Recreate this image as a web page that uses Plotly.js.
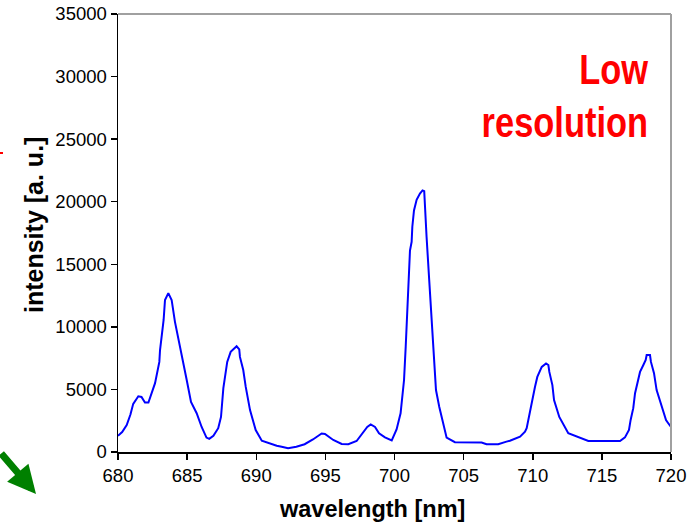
<!DOCTYPE html>
<html>
<head>
<meta charset="utf-8">
<script src="https://cdn.plot.ly/plotly-3.0.1.min.js"></script>
<style>
html,body{margin:0;padding:0;background:#fff;}
#chart{width:698px;height:524px;}
</style>
</head>
<body>
<div id="chart"></div>
<script>
var wavelength = [680.0,680.3,680.63,680.9,681.1,681.47,681.7,681.95,682.2,682.45,682.68,682.99,683.04,683.3,683.4,683.64,683.88,684.12,684.48,684.72,684.97,685.28,685.69,686.05,686.4,686.6,686.9,687.25,687.45,687.62,687.9,688.15,688.58,688.77,688.82,689.06,689.24,689.55,689.96,690.4,691.0,691.48,691.84,692.3,692.9,693.5,694.1,694.73,694.97,695.57,696.18,696.66,697.26,697.63,698.03,698.28,698.59,698.88,699.31,699.8,700.15,700.44,700.59,700.69,700.81,700.93,701.05,701.12,701.24,701.29,701.41,701.6,701.84,702.03,702.15,702.2,702.32,702.51,702.69,702.8,703.0,703.24,703.48,703.77,704.37,705.5,706.3,706.66,707.5,708.1,708.35,709.08,709.44,709.56,709.75,709.97,710.16,710.33,710.65,710.96,711.13,711.2,711.42,711.54,711.92,712.57,713.18,714.02,714.86,716.31,716.67,716.96,717.08,717.27,717.4,717.59,717.76,718.0,718.17,718.24,718.48,718.55,718.77,718.96,719.32,719.64,719.8,720.0];
var intensity = [1300,1600,2150,3000,3850,4450,4400,3950,3950,4700,5500,7200,8150,10550,12150,12700,12150,10400,8300,7100,5750,4000,3100,2000,1150,1050,1300,1900,2800,5100,7200,8000,8450,8200,7600,6550,5200,3350,1750,900,650,500,420,300,420,620,1000,1480,1440,960,640,620,880,1420,2000,2200,2000,1500,1170,920,1800,3090,4420,5750,8400,11900,14300,16100,16800,18000,19300,20150,20650,20900,20850,20000,17200,13750,10300,7900,4950,3600,2550,1150,780,780,760,620,620,830,900,1230,1620,1900,2950,4400,5200,6000,6800,7080,6950,6400,5350,4150,2800,1500,1230,880,880,880,1170,1760,2560,3500,4700,5500,6400,6950,7350,7750,7750,7200,6300,4950,3750,2550,2300,2000];
var xTicks = [680,685,690,695,700,705,710,715,720];
var yTicks = [0,5000,10000,15000,20000,25000,30000,35000];
var xTitle = "wavelength [nm]";
var yTitle = "intensity [a. u.]";
var noteLines = ["Low", "resolution"];

var FONT = "Liberation Sans, Arial, sans-serif";
// pixel -> paper helpers (plot area: x 118..671, y 14..452)
function px(x){ return (x - 118) / 553; }
function py(y){ return (452 - y) / 438; }

var trace = {
  x: wavelength, y: intensity, type: "scatter", mode: "lines",
  line: {color: "#0000ff", width: 2}, hoverinfo: "skip", showlegend: false
};

var layout = {
  width: 698, height: 524,
  margin: {l: 118, r: 27, t: 14, b: 72, pad: 0},
  paper_bgcolor: "#ffffff", plot_bgcolor: "#ffffff",
  font: {family: FONT, color: "#000000", size: 18},
  xaxis: {
    range: [680, 720], tickvals: xTicks, ticktext: xTicks.map(String),
    showgrid: false, zeroline: false, showline: true, linecolor: "#000000", linewidth: 1.5,
    ticks: "outside", ticklen: 6, tickcolor: "#000000", tickwidth: 1.5,
    tickfont: {size: 18.5}
  },
  yaxis: {
    range: [0, 35000], tickvals: yTicks, ticktext: yTicks.map(String),
    showgrid: false, zeroline: false, showline: true, linecolor: "#000000", linewidth: 1.5,
    ticks: "outside", ticklen: 6, tickcolor: "#000000", tickwidth: 1.5,
    tickfont: {size: 18.5}
  },
  shapes: [
    {type: "line", xref: "paper", yref: "paper", x0: 0, x1: 1, y0: 1, y1: 1, line: {color: "#a0a0a0", width: 2}},
    {type: "line", xref: "paper", yref: "paper", x0: 1, x1: 1, y0: 0, y1: 1, line: {color: "#a0a0a0", width: 2}},
    {type: "line", xref: "paper", yref: "paper", x0: px(0), x1: px(3), y0: py(153), y1: py(153), line: {color: "#ff0000", width: 2}}
  ],
  annotations: [
    {xref: "paper", yref: "paper", x: px(372), y: py(509), xanchor: "center", yanchor: "middle",
     text: xTitle, showarrow: false, font: {family: FONT, size: 23.5, weight: "bold", color: "#000000"}},
    {xref: "paper", yref: "paper", x: px(34), y: py(225), xanchor: "center", yanchor: "middle", textangle: -90,
     text: yTitle, showarrow: false, font: {family: FONT, size: 25, weight: "bold", color: "#000000"}},
    {xref: "paper", yref: "paper", x: px(650), y: py(44), xanchor: "right", yanchor: "top",
     text: noteLines[0], showarrow: false, align: "right",
     font: {family: FONT, size: 42, color: "#ff0000", weight: "bold"}},
    {xref: "paper", yref: "paper", x: px(650), y: py(97), xanchor: "right", yanchor: "top",
     text: noteLines[1], showarrow: false, align: "right",
     font: {family: FONT, size: 42, color: "#ff0000", weight: "bold"}},
    {xref: "paper", yref: "paper", x: px(36), y: py(494), ax: -44, ay: -42,
     text: "", showarrow: true, arrowhead: 2, arrowsize: 0.8, arrowwidth: 7, arrowcolor: "#008000"}
  ]
};

Plotly.newPlot("chart", [trace], layout, {displayModeBar: false, staticPlot: true}).then(function(gd){
  // condense the red note horizontally (original uses a narrow bold face)
  var texts = gd.querySelectorAll("g.annotation text.annotation-text");
  texts.forEach(function(t){
    var u = t.getAttribute("data-unformatted");
    if (u === noteLines[0] || u === noteLines[1]) {
      var b = t.getBBox();
      var s = 0.82, rx = b.x + b.width;
      t.setAttribute("transform", "translate(" + (rx * (1 - s)) + ",0) scale(" + s + ",1)");
    }
  });
});
</script>
</body>
</html>
